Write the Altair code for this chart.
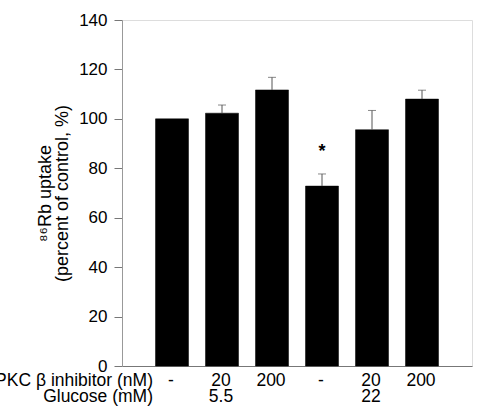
import altair as alt
import pandas as pd

# Six treatment groups: PKC beta inhibitor dose and glucose concentration
bar_ids = ["1", "2", "3", "4", "5", "6"]
inhibitor = ["-", "20", "200", "-", "20", "200"]
glucose = ["", "5.5", "", "", "22", ""]
uptake = [100.0, 102.3, 111.7, 72.8, 95.6, 108.0]
sem = [0.0, 3.3, 5.1, 4.9, 7.8, 3.6]
signif = ["", "", "", "*", "", ""]

df = pd.DataFrame({
    "bar": bar_ids,
    "inhibitor": inhibitor,
    "glucose": glucose,
    "uptake": uptake,
    "sem": sem,
    "signif": signif,
})
df["upper"] = df["uptake"] + df["sem"]

FONT = "Liberation Sans"
W, H = 350, 346

x = alt.X(
    "bar:N",
    sort=bar_ids,
    scale=alt.Scale(paddingInner=0.34, paddingOuter=0.67),
    axis=alt.Axis(labels=False, ticks=False, title=None, domain=True,
                  domainColor="#777", domainWidth=1),
)
y_scale = alt.Scale(domain=[0, 140], nice=False)

base = alt.Chart(df)

bars = base.mark_bar(color="black", stroke="black", strokeWidth=0.5).encode(
    x=x,
    y=alt.Y(
        "uptake:Q",
        scale=y_scale,
        axis=alt.Axis(
            values=[0, 20, 40, 60, 80, 100, 120, 140],
            grid=False,
            tickSize=8,
            tickColor="#777",
            domainColor="#999",
            labelFont=FONT,
            labelFontSize=17,
            labelColor="black",
            labelPadding=7,
            title=["⁸⁶Rb uptake", "(percent of control, %)"],
            titleFont=FONT,
            titleFontSize=18,
            titleFontWeight="normal",
            titleColor="black",
            titlePadding=7,
            titleLineHeight=17,
        ),
    ),
)

err = base.transform_filter("datum.sem > 0")

stems = err.mark_rule(color="#555", strokeWidth=1).encode(
    x=x, y=alt.Y("uptake:Q", scale=y_scale), y2="upper:Q"
)
caps = err.mark_tick(color="#555", thickness=1, size=8).encode(
    x=x, y=alt.Y("upper:Q", scale=y_scale)
)

stars = base.mark_text(
    font=FONT, fontSize=18, fontWeight="bold", baseline="alphabetic", dy=-17
).encode(x=x, y=alt.Y("upper:Q", scale=y_scale), text="signif:N")

row1 = base.mark_text(
    font=FONT, fontSize=17.5, baseline="alphabetic", align="center", dx=-1
).encode(x=x, y=alt.value(H + 20), text="inhibitor:N")

row2 = base.mark_text(
    font=FONT, fontSize=17.5, baseline="alphabetic", align="center", dx=-1
).encode(x=x, y=alt.value(H + 36), text="glucose:N")

headers = pd.DataFrame({
    "label": ["PKC β inhibitor (nM)", "Glucose (mM)"],
    "row": [0, 1],
})
header_text = alt.Chart(headers).mark_text(
    font=FONT, fontSize=17.5, baseline="alphabetic", align="right"
).encode(
    x=alt.value(31),
    y=alt.YValue(alt.expr(f"{H + 20} + datum.row * 16")),
    text="label:N",
)

chart = alt.layer(bars, stems, caps, stars, row1, row2, header_text).properties(
    width=W,
    height=H,
    autosize=alt.AutoSizeParams(type="none"),
    padding={"left": 122, "top": 20, "right": 6, "bottom": 50},
).configure_view(
    stroke="#999", strokeWidth=1
).configure(background="white")

chart.save("out.html", embed_options={"renderer": "svg", "actions": False})
